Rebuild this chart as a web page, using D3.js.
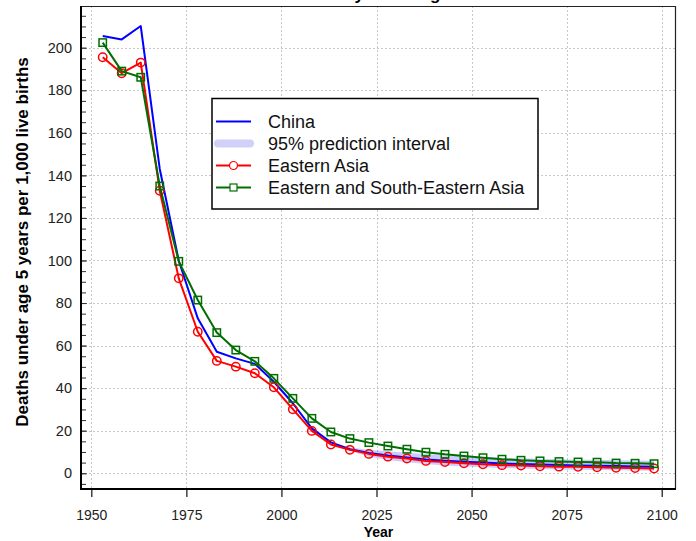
<!DOCTYPE html>
<html>
<head>
<meta charset="utf-8">
<script src="https://cdn.jsdelivr.net/npm/d3@7/dist/d3.min.js"></script>
<style>
  body { margin: 0; background: #fff; }
  svg { display: block; font-family: "Liberation Sans", Arial, Helvetica, sans-serif; }
</style>
</head>
<body>
<svg id="chart" width="696" height="541"></svg>
<script>
// 5-year period midpoints
const years = d3.range(1953, 2099, 5);

const china = [205.5, 203.9, 210.2, 143, 99.9, 72.8, 57.1, 54, 51.4, 43, 32.9, 21.1, 14.5, 11.3, 9.5,
               8.3, 7.4, 6.5, 5.9, 5.4, 5.0, 4.6, 4.3, 4.1, 3.9, 3.7, 3.5, 3.4, 3.2, 3.1];

const easternAsia = [195.5, 188, 193, 132.8, 91.6, 66.5, 52.8, 50.1, 47, 40.4, 30.1, 19.9, 13.5, 11, 9.1,
                     7.8, 6.9, 5.8, 5.3, 4.7, 4.2, 3.8, 3.6, 3.3, 3.1, 3.0, 2.8, 2.6, 2.5, 2.2];

const eastSouthEastAsia = [202.4, 189, 186.1, 135, 99.6, 81.4, 66.1, 57.9, 52.6, 44.6, 35.2, 25.8, 19.4, 16.3, 14.4,
                           12.8, 11.3, 9.9, 8.9, 8.1, 7.3, 6.6, 6.1, 5.8, 5.5, 5.3, 5.2, 4.8, 4.7, 4.5];

// 95% prediction interval for China (projection years)
const piYears = d3.range(2013, 2099, 5);
const piLower = [14.5, 10.6, 7.8, 6.2, 5.2, 4.3, 3.7, 3.2, 2.8, 2.5, 2.2, 2.0, 1.8, 1.6, 1.5, 1.4, 1.3, 1.2];
const piUpper = [14.5, 12.1, 11.0, 10.3, 9.6, 9.0, 8.5, 8.0, 7.6, 7.3, 7.0, 6.8, 6.6, 6.4, 6.3, 6.1, 6.0, 5.9];

const xTicks = [1950, 1975, 2000, 2025, 2050, 2075, 2100];
const yTicks = d3.range(0, 201, 20);
const yMinorTicks = d3.range(-5, 220, 5);

const legendItems = [
  { label: "China", color: "#0000ff", kind: "line" },
  { label: "95% prediction interval", color: "#d0d0f8", kind: "band" },
  { label: "Eastern Asia", color: "#ff0000", kind: "circle" },
  { label: "Eastern and South-Eastern Asia", color: "#006e00", kind: "square" }
];

const plotLeft = 81, plotRight = 676, plotTop = 6, plotBottom = 489;

const svg = d3.select("#chart");

const x = d3.scaleLinear().domain([1947.29, 2103.76]).range([plotLeft, plotRight]);
const y = d3.scaleLinear().domain([-7.4, 219.6]).range([plotBottom, plotTop]);

// title (mostly off the top of the picture, as in the source)
svg.append("text")
  .attr("x", (plotLeft + plotRight) / 2)
  .attr("y", 0)
  .attr("text-anchor", "middle")
  .attr("font-size", "17px")
  .attr("font-weight", "bold")
  .text("Mortality under age 5");

// grid
const grid = svg.append("g")
  .attr("stroke", "#c8c8c8")
  .attr("stroke-width", 1)
  .attr("stroke-dasharray", "2,2");
grid.selectAll(".gx").data(xTicks).enter().append("line")
  .attr("x1", d => Math.round(x(d)) + 0.5).attr("x2", d => Math.round(x(d)) + 0.5)
  .attr("y1", plotTop).attr("y2", plotBottom);
grid.selectAll(".gy").data(yTicks).enter().append("line")
  .attr("x1", plotLeft).attr("x2", plotRight)
  .attr("y1", d => Math.round(y(d)) + 0.5).attr("y2", d => Math.round(y(d)) + 0.5);

// prediction band
const band = piYears.map((yr, i) => ({ yr, lo: piLower[i], hi: piUpper[i] }));
svg.append("path")
  .datum(band)
  .attr("fill", "#0000ff")
  .attr("fill-opacity", 0.2)
  .attr("d", d3.area().x(d => x(d.yr)).y0(d => y(d.lo)).y1(d => y(d.hi)));

const line = d3.line().x(d => x(d[0])).y(d => y(d[1]));

function series(values, color) {
  const pts = years.map((yr, i) => [yr, values[i]]);
  svg.append("path")
    .datum(pts)
    .attr("fill", "none")
    .attr("stroke", color)
    .attr("stroke-width", 2)
    .attr("stroke-linejoin", "round")
    .attr("d", line);
  return pts;
}

series(china, "#0000ff");

const eaPts = series(easternAsia, "#ff0000");
svg.append("g").selectAll("circle").data(eaPts).enter().append("circle")
  .attr("cx", d => x(d[0])).attr("cy", d => y(d[1]))
  .attr("r", 4.2)
  .attr("fill", "none")
  .attr("stroke", "#ff0000")
  .attr("stroke-width", 1.5);

const eseaPts = series(eastSouthEastAsia, "#006e00");
svg.append("g").selectAll("rect").data(eseaPts).enter().append("rect")
  .attr("x", d => x(d[0]) - 3.7).attr("y", d => y(d[1]) - 3.7)
  .attr("width", 7.4).attr("height", 7.4)
  .attr("fill", "none")
  .attr("stroke", "#006e00")
  .attr("stroke-width", 1.5);

// frame (top/right thin)
svg.append("path")
  .attr("d", `M${plotLeft},${plotTop + 0.5}H${plotRight - 0.5}V${plotBottom}`)
  .attr("fill", "none")
  .attr("stroke", "#222")
  .attr("stroke-width", 1.2);

// y axis
const yAxis = svg.append("g")
  .attr("transform", `translate(${plotLeft},0)`)
  .call(d3.axisLeft(y).tickValues(yTicks).tickSize(-6).tickPadding(9));
yAxis.select(".domain").remove();
yAxis.selectAll("line").attr("stroke", "#555");
yAxis.selectAll("text").attr("font-size", "14.5px").attr("fill", "#222");

const yMinor = svg.append("g")
  .attr("transform", `translate(${plotLeft},0)`)
  .call(d3.axisLeft(y).tickValues(yMinorTicks).tickSize(-5).tickFormat(""));
yMinor.select(".domain").remove();
yMinor.selectAll("line").attr("stroke", "#333");

// x axis
const xAxis = svg.append("g")
  .attr("transform", `translate(0,${plotBottom})`)
  .call(d3.axisBottom(x).tickValues(xTicks).tickSize(8).tickPadding(13).tickFormat(d3.format("d")));
xAxis.select(".domain").remove();
xAxis.selectAll("line").attr("stroke", "#111").attr("stroke-width", 1.2);
xAxis.selectAll("text").attr("font-size", "14px").attr("fill", "#222");

// thick left and bottom axes
svg.append("path")
  .attr("d", `M${plotLeft},${plotTop}V${plotBottom}H${plotRight}`)
  .attr("fill", "none")
  .attr("stroke", "#000")
  .attr("stroke-width", 2);

// axis titles
svg.append("text")
  .attr("x", (plotLeft + plotRight) / 2)
  .attr("y", 537)
  .attr("text-anchor", "middle")
  .attr("font-size", "14px")
  .attr("font-weight", "bold")
  .text("Year");

svg.append("text")
  .attr("transform", `translate(28,242) rotate(-90)`)
  .attr("text-anchor", "middle")
  .attr("font-size", "17px")
  .attr("font-weight", "bold")
  .text("Deaths under age 5 years per 1,000 live births");

// legend
const lg = svg.append("g").attr("transform", "translate(212,98.5)");
lg.append("rect")
  .attr("width", 326).attr("height", 110.5)
  .attr("fill", "#fff").attr("stroke", "#000").attr("stroke-width", 1.5);
const rows = lg.selectAll(".row").data(legendItems).enter().append("g")
  .attr("transform", (d, i) => `translate(0,${23 + i * 22})`);
rows.each(function(d) {
  const g = d3.select(this);
  if (d.kind === "band") {
    g.append("line").attr("x1", 6).attr("x2", 38).attr("y1", 0).attr("y2", 0)
      .attr("stroke", d.color).attr("stroke-width", 8).attr("stroke-linecap", "round");
  } else {
    g.append("line").attr("x1", 4).attr("x2", 39).attr("y1", 0).attr("y2", 0)
      .attr("stroke", d.color).attr("stroke-width", 2);
  }
  if (d.kind === "circle") {
    g.append("circle").attr("cx", 21.5).attr("cy", 0).attr("r", 4)
      .attr("fill", "#fff").attr("stroke", d.color).attr("stroke-width", 1.2);
  }
  if (d.kind === "square") {
    g.append("rect").attr("x", 18).attr("y", -3.5).attr("width", 7).attr("height", 7)
      .attr("fill", "#fff").attr("stroke", d.color).attr("stroke-width", 1.2);
  }
  g.append("text").attr("x", 56).attr("y", 6.5)
    .attr("font-size", "18px").attr("fill", "#111")
    .text(d.label);
});
</script>
</body>
</html>
